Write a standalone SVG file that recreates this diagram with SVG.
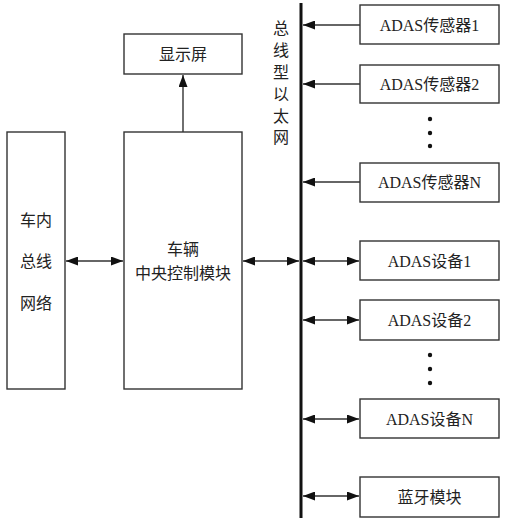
<svg xmlns="http://www.w3.org/2000/svg" width="506" height="523" viewBox="0 0 506 523">
<style>
.box{fill:#fff;stroke:#333;stroke-width:1.4}
.t{font-family:'Liberation Serif','Times New Roman','Noto Sans CJK SC',serif;font-size:16px;fill:#222;text-anchor:middle;dominant-baseline:central}
.c{stroke:#333;stroke-width:1.4;fill:none}
.dot{fill:#111}
</style>
<defs>
<marker id="ah" viewBox="0 0 12 9" refX="12" refY="4.5" markerWidth="12" markerHeight="9" markerUnits="userSpaceOnUse" orient="auto-start-reverse">
<path d="M0,0 L12,4.5 L0,9 z" fill="#111"/>
</marker>
</defs>
<rect width="506" height="523" fill="#fff"/>
<g id="connectors">
<line x1="301" y1="3" x2="301" y2="518" stroke="#111" stroke-width="3"/>
<line class="c" x1="183" y1="132" x2="183" y2="75" marker-end="url(#ah)"/>
<line class="c" x1="66" y1="261" x2="123" y2="261" marker-start="url(#ah)" marker-end="url(#ah)"/>
<line class="c" x1="243" y1="261" x2="299" y2="261" marker-start="url(#ah)" marker-end="url(#ah)"/>
<line class="c" x1="360" y1="25" x2="303" y2="25" marker-end="url(#ah)"/>
<line class="c" x1="360" y1="84" x2="303" y2="84" marker-end="url(#ah)"/>
<line class="c" x1="360" y1="182" x2="303" y2="182" marker-end="url(#ah)"/>
<line class="c" x1="303" y1="261" x2="359" y2="261" marker-start="url(#ah)" marker-end="url(#ah)"/>
<line class="c" x1="303" y1="320" x2="359" y2="320" marker-start="url(#ah)" marker-end="url(#ah)"/>
<line class="c" x1="303" y1="419" x2="359" y2="419" marker-start="url(#ah)" marker-end="url(#ah)"/>
<line class="c" x1="303" y1="496" x2="359" y2="496" marker-start="url(#ah)" marker-end="url(#ah)"/>
</g>
<g id="bus-label">
<text class="t"><tspan x="281" y="28">总</tspan><tspan x="281" y="50">线</tspan><tspan x="281" y="72">型</tspan><tspan x="281" y="94">以</tspan><tspan x="281" y="116">太</tspan><tspan x="281" y="137">网</tspan></text>
</g>
<g id="display"><rect class="box" x="124" y="34" width="118" height="40"/><text class="t" x="183" y="54">显示屏</text></g>
<g id="central"><rect class="box" x="124" y="132" width="118" height="257"/><text class="t" x="183" y="249">车辆</text><text class="t" x="183" y="273">中央控制模块</text></g>
<g id="carbus"><rect class="box" x="7" y="132" width="58" height="257"/><text class="t" x="36" y="220">车内</text><text class="t" x="36" y="261">总线</text><text class="t" x="36" y="303">网络</text></g>
<g id="sensor1"><rect class="box" x="360" y="5" width="139" height="39"/><text class="t" x="429.5" y="25">ADAS传感器1</text></g>
<g id="sensor2"><rect class="box" x="360" y="65" width="139" height="38"/><text class="t" x="429.5" y="84">ADAS传感器2</text></g>
<g id="dots1"><circle class="dot" cx="430" cy="119" r="2.2"/><circle class="dot" cx="430" cy="133" r="2.2"/><circle class="dot" cx="430" cy="146" r="2.2"/></g>
<g id="sensorN"><rect class="box" x="360" y="163" width="139" height="39"/><text class="t" x="429.5" y="182">ADAS传感器N</text></g>
<g id="device1"><rect class="box" x="360" y="241" width="139" height="39"/><text class="t" x="429.5" y="261">ADAS设备1</text></g>
<g id="device2"><rect class="box" x="360" y="300" width="139" height="40"/><text class="t" x="429.5" y="320">ADAS设备2</text></g>
<g id="dots2"><circle class="dot" cx="430" cy="355" r="2.2"/><circle class="dot" cx="430" cy="369" r="2.2"/><circle class="dot" cx="430" cy="383" r="2.2"/></g>
<g id="deviceN"><rect class="box" x="360" y="399" width="139" height="39"/><text class="t" x="429.5" y="419">ADAS设备N</text></g>
<g id="bluetooth"><rect class="box" x="360" y="477" width="139" height="40"/><text class="t" x="429.5" y="497">蓝牙模块</text></g>
</svg>
